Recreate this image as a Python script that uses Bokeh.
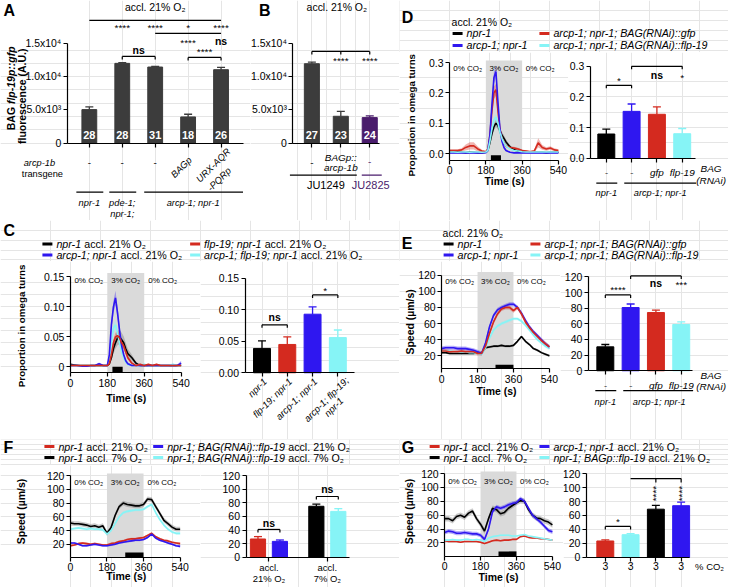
import numpy as np
from bokeh.plotting import figure
from bokeh.layouts import row, column
from bokeh.models import (Range1d, FixedTicker, Label, Arrow, NumeralTickFormatter,
                          CustomJSTickFormatter, LinearAxis, Plot)
from bokeh.embed import file_html
from bokeh.resources import INLINE

# ============================ DATA ============================
TITLE_21 = "accl. 21% O₂"
CO2_LABELS = ["0% CO₂", "3% CO₂", "0% CO₂"]
CO2_LABEL_T = [90, 270, 450]
CO2_WINDOW = (180, 360)
OMEGA_WINDOW = (205, 255)
SPEED_WINDOW = (270, 360)
TIME_TICKS = [0, 180, 360, 540]

# Panel A
A_VALUES = [5050, 12000, 11450, 3950, 11050]
A_ERR = [400, 120, 100, 400, 350]
A_N = ["28", "28", "31", "18", "26"]
A_TRANSGENE = ["-", "-", "-", "BAGp", "URX-AQR\n-PQRp"]
A_GENOTYPES = ["npr-1", "pde-1;\nnpr-1;", "arcp-1; npr-1"]

# Panel B
B_VALUES = [11950, 4050, 3850]
B_ERR = [250, 750, 250]
B_N = ["27", "23", "24"]
B_TRANSGENE = ["-", "BAGp::\narcp-1b", "-"]
B_STRAINS = ["JU1249", "JU2825"]

# Panel C (omega turns)
T_OMEGA = [0, 20, 40, 60, 80, 100, 120, 140, 160, 180, 190, 200, 210, 220, 230, 240, 250,
           260, 270, 280, 300, 320, 340, 360, 380, 400, 420, 440, 460, 480, 500, 520, 540]
C_LEGEND = [("npr-1", " accl. 21% O₂"), ("arcp-1; npr-1", " accl. 21% O₂"),
            ("flp-19; npr-1", " accl. 21% O₂"), ("arcp-1; flp-19; npr-1", " accl. 21% O₂")]
C_BLACK = [0.004, 0.003, 0.002, 0.002, 0.002, 0.002, 0.002, 0.002, 0.002, 0.002,
           0.005, 0.015, 0.03, 0.04, 0.048, 0.05, 0.045, 0.04, 0.03, 0.022,
           0.015, 0.006, 0.002, 0.002, 0.002, 0.002, 0.002, 0.002, 0.002, 0.002, 0.002, 0.002, 0.002]
C_BLACK_SEM = [0.001, 0.001, 0.001, 0.001, 0.001, 0.001, 0.001, 0.001, 0.001, 0.001,
               0.002, 0.005, 0.008, 0.01, 0.012, 0.012, 0.012, 0.011, 0.01, 0.008,
               0.005, 0.003, 0.001, 0.001, 0.001, 0.001, 0.001, 0.001, 0.001, 0.001, 0.001, 0.001, 0.001]
C_BLUE = [0.002, 0.002, 0.002, 0.001, 0.001, 0.002, 0.002, 0.005, 0.002, 0.002,
          0.02, 0.07, 0.10, 0.115, 0.09, 0.06, 0.035, 0.02, 0.01, 0.005,
          0.002, 0.002, 0.002, 0.002, 0.002, 0.002, 0.002, 0.002, 0.002, 0.002, 0.002, 0.002, 0.006]
C_BLUE_SEM = [0.001, 0.001, 0.001, 0.001, 0.001, 0.001, 0.001, 0.002, 0.001, 0.001,
              0.004, 0.008, 0.01, 0.012, 0.01, 0.008, 0.006, 0.004, 0.003, 0.002,
              0.001, 0.001, 0.001, 0.001, 0.001, 0.001, 0.001, 0.001, 0.001, 0.001, 0.001, 0.001, 0.004]
C_RED = [0.002, 0.002, 0.002, 0.002, 0.002, 0.002, 0.002, 0.002, 0.002, 0.002,
         0.005, 0.02, 0.04, 0.05, 0.052, 0.048, 0.04, 0.035, 0.025, 0.015,
         0.006, 0.002, 0.004, 0.002, 0.004, 0.002, 0.004, 0.002, 0.002, 0.002, 0.002, 0.002, 0.002]
C_RED_SEM = [0.001, 0.001, 0.001, 0.001, 0.001, 0.001, 0.001, 0.001, 0.001, 0.001,
             0.002, 0.004, 0.006, 0.007, 0.007, 0.007, 0.006, 0.005, 0.004, 0.003,
             0.002, 0.001, 0.001, 0.001, 0.001, 0.001, 0.001, 0.001, 0.001, 0.001, 0.001, 0.001, 0.001]
C_CYAN = [0.002, 0.002, 0.002, 0.002, 0.002, 0.002, 0.002, 0.002, 0.002, 0.002,
          0.01, 0.04, 0.065, 0.07, 0.055, 0.04, 0.025, 0.015, 0.008, 0.004,
          0.002, 0.002, 0.002, 0.004, 0.002, 0.002, 0.002, 0.002, 0.002, 0.002, 0.004, 0.002, 0.002]
C_CYAN_SEM = [0.001, 0.001, 0.001, 0.001, 0.001, 0.001, 0.001, 0.001, 0.001, 0.001,
              0.003, 0.006, 0.008, 0.008, 0.007, 0.006, 0.004, 0.003, 0.002, 0.002,
              0.001, 0.001, 0.001, 0.001, 0.001, 0.001, 0.001, 0.001, 0.001, 0.001, 0.001, 0.001, 0.001]
C_BAR_LABELS = ["npr-1", "flp-19; npr-1", "arcp-1; npr-1", "arcp-1; flp-19;\nnpr-1"]
C_BAR = [0.0385, 0.0448, 0.0927, 0.0557]
C_BAR_ERR = [0.012, 0.012, 0.0115, 0.012]

# Panel D (omega turns)
D_LEGEND = ["npr-1", "arcp-1; npr-1", "arcp-1; npr-1; BAG(RNAi)::gfp", "arcp-1; npr-1; BAG(RNAi)::flp-19"]
D_BLACK = [0.005, 0.004, 0.005, 0.004, 0.003, 0.004, 0.004, 0.003, 0.003, 0.004,
           0.01, 0.035, 0.065, 0.088, 0.10, 0.092, 0.075, 0.06, 0.05, 0.038,
           0.022, 0.012, 0.008, 0.006, 0.005, 0.004, 0.004, 0.004, 0.004, 0.003, 0.004, 0.004, 0.004]
D_BLACK_SEM = [0.002, 0.002, 0.002, 0.002, 0.002, 0.002, 0.002, 0.002, 0.002, 0.002,
               0.004, 0.008, 0.01, 0.012, 0.013, 0.013, 0.012, 0.011, 0.01, 0.008,
               0.005, 0.004, 0.003, 0.002, 0.002, 0.002, 0.002, 0.002, 0.002, 0.002, 0.002, 0.002, 0.002]
D_BLUE = [0.002, 0.002, 0.002, 0.002, 0.002, 0.002, 0.002, 0.002, 0.002, 0.003,
          0.01, 0.06, 0.16, 0.25, 0.27, 0.17, 0.08, 0.04, 0.02, 0.01,
          0.004, 0.002, 0.002, 0.002, 0.002, 0.002, 0.002, 0.002, 0.002, 0.002, 0.002, 0.002, 0.002]
D_BLUE_SEM = [0.001, 0.001, 0.001, 0.001, 0.001, 0.001, 0.001, 0.001, 0.001, 0.001,
              0.003, 0.01, 0.015, 0.02, 0.02, 0.015, 0.01, 0.006, 0.004, 0.003,
              0.001, 0.001, 0.001, 0.001, 0.001, 0.001, 0.001, 0.001, 0.001, 0.001, 0.001, 0.001, 0.001]
D_RED = [0.01, 0.01, 0.01, 0.012, 0.02, 0.025, 0.025, 0.015, 0.008, 0.006,
         0.015, 0.06, 0.14, 0.20, 0.21, 0.14, 0.08, 0.05, 0.035, 0.025,
         0.02, 0.018, 0.015, 0.01, 0.008, 0.006, 0.008, 0.035, 0.02, 0.015, 0.018, 0.012, 0.01]
D_RED_SEM = [0.004, 0.004, 0.004, 0.005, 0.01, 0.012, 0.012, 0.008, 0.004, 0.003,
             0.005, 0.01, 0.015, 0.02, 0.02, 0.015, 0.01, 0.008, 0.006, 0.005,
             0.004, 0.004, 0.004, 0.003, 0.003, 0.003, 0.004, 0.015, 0.008, 0.006, 0.006, 0.005, 0.004]
D_CYAN = [0.005, 0.005, 0.004, 0.005, 0.005, 0.004, 0.005, 0.005, 0.004, 0.005,
          0.01, 0.04, 0.08, 0.11, 0.12, 0.10, 0.07, 0.05, 0.035, 0.025,
          0.015, 0.01, 0.008, 0.006, 0.005, 0.005, 0.005, 0.005, 0.005, 0.005, 0.005, 0.005, 0.005]
D_CYAN_SEM = [0.002, 0.002, 0.002, 0.002, 0.002, 0.002, 0.002, 0.002, 0.002, 0.002,
              0.003, 0.006, 0.008, 0.01, 0.01, 0.01, 0.008, 0.006, 0.005, 0.004,
              0.003, 0.002, 0.002, 0.002, 0.002, 0.002, 0.002, 0.002, 0.002, 0.002, 0.002, 0.002, 0.002]
D_BAR = [0.079, 0.153, 0.1435, 0.080]
D_BAR_ERR = [0.016, 0.024, 0.024, 0.017]
RNAI_TICKS = ["-", "-", "gfp", "flp-19"]
RNAI_GENOTYPES = ["npr-1", "arcp-1; npr-1"]

# Panels E, F, G (speed)
T_SPEED = [0, 20, 40, 60, 80, 100, 120, 140, 160, 180, 200, 220, 240, 260,
           280, 300, 320, 340, 360, 380, 400, 420, 440, 460, 480, 500, 520, 540]
E_BLACK = [24, 24, 23, 23, 23, 23, 23, 23, 23, 24, 23, 30, 31, 32, 32, 33, 32, 32, 33, 38, 44, 38, 34, 29, 27, 24, 22, 20]
E_BLUE = [29, 30, 30, 30, 29, 29, 29, 28, 27, 25, 23, 36, 56, 70, 77, 80, 82, 84, 84, 80, 73, 64, 56, 50, 45, 40, 35, 31]
E_RED = [26, 26, 25, 25, 25, 26, 25, 25, 25, 23, 23, 32, 48, 62, 72, 78, 80, 80, 76, 80, 72, 62, 55, 49, 44, 39, 35, 31]
E_CYAN = [26, 26, 26, 25, 25, 25, 25, 24, 24, 23, 22, 30, 42, 52, 57, 60, 62, 64, 66, 66, 63, 58, 52, 46, 40, 36, 32, 29]
E_SEM = {"black": 1.5, "blue": 2.5, "red": 2.5, "cyan": 2.0}
E_BAR = [30.6, 80.9, 74.5, 59.2]
E_BAR_ERR = [3.0, 4.5, 3.0, 3.3]

F_LEGEND = [("npr-1", " accl. 21% O₂"), ("npr-1", " accl. 7% O₂"),
            ("npr-1; BAG(RNAi)::flp-19", " accl. 21% O₂"), ("npr-1; BAG(RNAi)::flp-19", " accl. 7% O₂")]
F_RED = [18, 19, 21, 22, 21, 20, 21, 20, 19, 19, 21, 22, 24, 25, 27, 28, 28, 29, 30, 33, 36, 31, 28, 26, 25, 23, 22, 21]
F_BLUE = [22, 22, 20, 18, 18, 19, 20, 19, 18, 18, 19, 20, 22, 23, 24, 25, 26, 26, 27, 30, 35, 29, 26, 24, 22, 20, 18, 17]
F_BLACK = [51, 50, 50, 49, 48, 46, 47, 45, 47, 36, 44, 62, 75, 80, 78, 77, 76, 76, 78, 86, 85, 75, 65, 55, 50, 45, 42, 42]
F_CYAN = [42, 43, 44, 43, 42, 43, 42, 42, 41, 35, 40, 50, 60, 66, 68, 69, 70, 70, 71, 75, 78, 66, 56, 48, 42, 38, 36, 36]
F_SEM = {"black": 3.5, "cyan": 2.0, "red": 1.5, "blue": 1.5}
F_GROUPS = ["accl.\n21% O₂", "accl.\n7% O₂"]
F_BAR_NPR1 = [27, 75]
F_BAR_NPR1_ERR = [3.5, 3.0]
F_BAR_RNAI = [23.5, 67.5]
F_BAR_RNAI_ERR = [2.0, 4.0]

G_LEGEND = [("npr-1", " accl. 21% O₂"), ("npr-1", " accl. 7% O₂"),
            ("arcp-1; npr-1", " accl. 21% O₂"), ("npr-1; BAGp::flp-19", " accl. 21% O₂")]
G_RED = [23, 22, 22, 22, 21, 22, 22, 22, 22, 21, 19, 21, 23, 24, 23, 24, 24, 25, 25, 29, 30, 28, 27, 27, 26, 26, 25, 24]
G_CYAN = [24, 24, 25, 24, 24, 25, 25, 24, 25, 24, 22, 27, 29, 30, 31, 31, 31, 30, 30, 31, 32, 30, 29, 28, 27, 26, 25, 24]
G_BLACK = [55, 55, 52, 58, 60, 57, 63, 66, 55, 47, 37, 55, 70, 68, 62, 64, 70, 74, 78, 81, 80, 68, 60, 56, 55, 52, 50, 46]
G_BLUE = [35, 37, 36, 34, 34, 35, 34, 33, 33, 31, 25, 40, 65, 72, 70, 72, 75, 77, 78, 84, 80, 70, 60, 55, 50, 44, 38, 36]
G_SEM = {"black": 4.0, "blue": 3.0, "red": 1.0, "cyan": 1.0}
G_BAR = [23.5, 32.5, 69.0, 74.0]
G_BAR_ERR = [1.5, 1.5, 5.5, 5.0]
G_BAR_TICKS = ["3", "3", "3", "3"]

# ============================ STYLE ============================
S = 0.998
FONT = "Liberation Sans"
BLACK = "#000000"
BLUE = "#2f17f0"
RED = "#d42a1f"
CYAN = "#86f4f6"
GRAYBAR = "#3c3c3c"
PURPLE = "#4a1c6c"
BAND = "#dadada"
HAS_FRAME_ALIGN = "frame_align" in Plot.properties()

REG = {' ': 278, '!': 278, '%': 889, '(': 333, ')': 333, '*': 389, ',': 278, '-': 333, '.': 278,
       '/': 278, ':': 278, ';': 278, 'A': 667, 'B': 667, 'C': 722, 'D': 722, 'E': 667, 'F': 611,
       'G': 778, 'H': 722, 'I': 278, 'J': 500, 'K': 667, 'L': 556, 'M': 833, 'N': 722, 'O': 778,
       'P': 667, 'Q': 778, 'R': 722, 'S': 667, 'T': 611, 'U': 722, 'V': 667, 'W': 944, 'X': 667,
       'Y': 667, 'Z': 611, 'a': 556, 'b': 556, 'c': 500, 'd': 556, 'e': 556, 'f': 278, 'g': 556,
       'h': 556, 'i': 222, 'j': 222, 'k': 500, 'l': 222, 'm': 833, 'n': 556, 'o': 556, 'p': 556,
       'q': 556, 'r': 333, 's': 500, 't': 278, 'u': 556, 'v': 500, 'w': 722, 'x': 500, 'y': 500,
       'z': 500}
BOLD = dict(REG)
BOLD.update({'a': 556, 'b': 611, 'c': 556, 'd': 611, 'e': 556, 'f': 333, 'g': 611, 'h': 611,
             'i': 278, 'j': 278, 'k': 556, 'l': 278, 'm': 889, 'n': 611, 'o': 611, 'p': 611,
             'q': 611, 'r': 389, 's': 556, 't': 333, 'u': 611, 'v': 556, 'w': 778, 'x': 556,
             'y': 556, 'A': 722, 'B': 722, ':': 333, ';': 333, '!': 333})


def tw(s, bold=False):
    tab = BOLD if bold else REG
    return sum(tab.get(c, 556) for c in s) / 1000.0


def sc(v):
    return int(round(v * S))


def fpx(size):
    return f"{size * S:.2f}px"


class Fig:
    """A figure whose frame is its whole canvas; positions are given in reference pixels."""

    def __init__(self, box, frame=None, xr=None, yr=None):
        rx0, ry0, rx1, ry1 = box
        W = sc(rx1) - sc(rx0)
        H = sc(ry1) - sc(ry0)
        self.has_axes = frame is not None
        if frame is None:
            frame = box
            xr = (rx0, rx1)
            yr = (ry1, ry0)
        self.fl, self.ft, self.fr, self.fb = frame
        self.xr, self.yr = xr, yr
        cx0, cx1 = sc(rx0) / S, sc(rx1) / S
        cy0, cy1 = sc(ry0) / S, sc(ry1) / S
        kw = dict(width=W, height=H,
                  x_range=Range1d(self.X(cx0), self.X(cx1)),
                  y_range=Range1d(self.Y(cy1), self.Y(cy0)),
                  min_border=0, min_border_left=0, min_border_right=0,
                  min_border_top=0, min_border_bottom=0,
                  x_axis_location=None, y_axis_location=None,
                  toolbar_location=None, output_backend="svg", outline_line_color=None)
        if HAS_FRAME_ALIGN:
            kw["frame_align"] = False
        self.p = figure(**kw)
        if self.has_axes:
            self.p.add_layout(LinearAxis(fixed_location=yr[0], bounds=(xr[0], xr[1])), "below")
            self.p.add_layout(LinearAxis(fixed_location=xr[0]), "left")

    def X(self, x):
        return self.xr[0] + (x - self.fl) * (self.xr[1] - self.xr[0]) / (self.fr - self.fl)

    def Y(self, y):
        return self.yr[0] + (self.fb - y) * (self.yr[1] - self.yr[0]) / (self.fb - self.ft)

    def RX(self, xd):
        return self.fl + (xd - self.xr[0]) * (self.fr - self.fl) / (self.xr[1] - self.xr[0])

    def dx(self, px):
        return px * (self.xr[1] - self.xr[0]) / (self.fr - self.fl)


def lab(P, x, y, text, size=10.5, style="normal", color=BLACK, align="center", baseline="middle", angle=0):
    P.p.add_layout(Label(x=P.X(x), y=P.Y(y), text=text, text_font=FONT, text_font_size=fpx(size),
                         text_font_style=style, text_color=color, text_align=align,
                         text_baseline=baseline, angle=angle, angle_units="deg"))


def seg(P, x0, y0, x1, y1, color=BLACK, w=1.2):
    P.p.add_layout(Arrow(start=None, end=None, x_start=P.X(x0), y_start=P.Y(y0),
                         x_end=P.X(x1), y_end=P.Y(y1), line_color=color, line_width=w))


def rich(P, x, y, parts, size=10.7):
    for t, st, col in parts:
        bold = "bold" in st
        stripped = t.lstrip(" ")
        x += tw(t[:len(t) - len(stripped)], bold) * size
        lab(P, x, y, stripped, size, st, col, "left")
        x += tw(stripped, bold) * size


def bracket(P, xa, xb, y, text=None, ty=None, size=10.5, style="normal", drop=3):
    seg(P, xa, y + drop, xa, y)
    seg(P, xa, y, xb, y)
    seg(P, xb, y, xb, y + drop)
    if text:
        lab(P, (xa + xb) / 2, ty, text, size, style)


def legend_item(P, x, y, color, parts, size=10.7):
    seg(P, x, y, x + 10, y, color=color, w=3)
    rich(P, x + 14, y, parts, size)


def style_axes(P, size=10.5):
    for ax in P.p.axis:
        ax.axis_line_width = 1.2
        ax.axis_line_color = BLACK
        ax.major_tick_line_width = 1.2
        ax.major_tick_line_color = BLACK
        ax.major_tick_out = 4
        ax.major_tick_in = 0
        ax.minor_tick_line_color = None
        ax.major_label_text_font = FONT
        ax.major_label_text_font_size = fpx(size)
        ax.major_label_text_color = BLACK
        ax.major_label_standoff = 2


def time_chart(P, T, series, yticks, fmt=None, ovr=None, stim=None, stim_top=None, co2_y=None):
    p = P.p
    y0, y1 = P.yr
    p.quad(left=[CO2_WINDOW[0]], right=[CO2_WINDOW[1]], bottom=[y0], top=[y1],
           fill_color=BAND, line_color=None)
    for vals, sem, col in series:
        v = np.asarray(vals, dtype=float)
        e = np.asarray(sem, dtype=float) * np.ones_like(v)
        fc = "#666666" if col == BLACK else col
        p.varea(x=T, y1=v - e, y2=v + e, fill_color=fc, fill_alpha=0.35)
    for vals, sem, col in series:
        p.line(T, vals, line_color=col, line_width=1.6)
    p.quad(left=[stim[0]], right=[stim[1]], bottom=[y0], top=[P.Y(stim_top)],
           fill_color=BLACK, line_color=None)
    style_axes(P)
    p.xaxis.ticker = FixedTicker(ticks=TIME_TICKS)
    p.yaxis.ticker = FixedTicker(ticks=yticks)
    p.yaxis.bounds = (y0, yticks[-1])
    if fmt:
        p.yaxis.formatter = NumeralTickFormatter(format=fmt)
    if ovr:
        p.yaxis.major_label_overrides = ovr
    for tx, s in zip(CO2_LABEL_T, CO2_LABELS):
        lab(P, P.RX(tx), co2_y, s, 8)


def bar_chart(P, xs, vals, errs, cols, width, yticks, fmt=None, ovr=None, cap=4):
    p = P.p
    p.vbar(x=xs, top=vals, width=width, fill_color=cols, line_color=cols)
    ye = [v + e for v, e in zip(vals, errs)]
    cw = P.dx(cap)
    p.segment(x0=xs, y0=vals, x1=xs, y1=ye, line_color=cols, line_width=1.3)
    p.segment(x0=[x - cw for x in xs], y0=ye, x1=[x + cw for x in xs], y1=ye,
              line_color=cols, line_width=1.3)
    style_axes(P)
    p.yaxis.ticker = FixedTicker(ticks=yticks)
    p.yaxis.bounds = (P.yr[0], yticks[-1])
    if fmt:
        p.yaxis.formatter = NumeralTickFormatter(format=fmt)
    if ovr:
        p.yaxis.major_label_overrides = ovr
    p.xaxis.ticker = FixedTicker(ticks=list(xs))
    p.xaxis.formatter = CustomJSTickFormatter(code="return ''")


def set_xlabels(P, xs, labels, size=10, style="italic", standoff=5):
    ax = P.p.xaxis[0]
    ax.formatter = NumeralTickFormatter(format="0")
    ax.major_label_overrides = {x: t for x, t in zip(xs, labels)}
    ax.major_label_text_font_style = style
    ax.major_label_text_font_size = fpx(size)
    ax.major_label_standoff = standoff


# ============================ PANEL A ============================
Fa = Fig((0, 0, 250, 220), frame=(67, 15, 243, 143), xr=(0.333, 5.667), yr=(0, 19200))
xa = list(range(1, len(A_VALUES) + 1))
bar_chart(Fa, xa, A_VALUES, A_ERR, [GRAYBAR] * len(xa), 0.45, [0, 5000, 10000, 15000],
          ovr={0: "0", 5000: "5.0x10³", 10000: "1.0x10⁴", 15000: "1.5x10⁴"})
for x, n in zip(xa, A_N):
    lab(Fa, Fa.RX(x), 135, n, 11, "bold", "white")
lab(Fa, 3, 10, "A", 16, "bold", align="left")
lab(Fa, 155, 7, TITLE_21, 10.5)
seg(Fa, Fa.RX(1), 20, Fa.RX(5), 20)
for x, s in zip([2, 3, 4, 5], ["****", "****", "*", "****"]):
    lab(Fa, Fa.RX(x), 27, s, 10)
seg(Fa, Fa.RX(3), 33, Fa.RX(5), 33)
lab(Fa, Fa.RX(4), 42, "****", 10)
lab(Fa, Fa.RX(5), 41, "ns", 10.5, "bold")
bracket(Fa, Fa.RX(4), Fa.RX(5), 57, "****", 51, 10)
bracket(Fa, Fa.RX(2), Fa.RX(3), 56, "ns", 50, 10.5, "bold")
for x, t in zip(xa[:3], A_TRANSGENE[:3]):
    lab(Fa, Fa.RX(x), 163, t, 10)
lab(Fa, 181, 167, A_TRANSGENE[3], 9.5, "italic", angle=45)
l1, l2 = A_TRANSGENE[4].split("\n")
lab(Fa, 213, 165, l1, 9.5, "italic", angle=45)
lab(Fa, 219, 179, l2, 9.5, "italic", angle=45)
lab(Fa, 39, 163, "arcp-1b", 9.3, "italic")
lab(Fa, 42, 174, "transgene", 9.3)
seg(Fa, 76, 192, 103, 192)
seg(Fa, 109, 192, 136, 192)
seg(Fa, 144, 192, 243, 192)
lab(Fa, Fa.RX(1), 203, A_GENOTYPES[0], 9.3, "italic")
g1, g2 = A_GENOTYPES[1].split("\n")
lab(Fa, Fa.RX(2), 203, g1, 9.3, "italic")
lab(Fa, Fa.RX(2), 214, g2, 9.3, "italic")
lab(Fa, 193, 203, A_GENOTYPES[2], 9.3, "italic")
lab(Fa, 11, 130, "BAG ", 10.5, "bold", align="left", angle=90)
lab(Fa, 11, 130 - tw("BAG ", True) * 10.5, "flp-19p::gfp", 10.5, "bold italic", align="left", angle=90)
lab(Fa, 22, 96, "fluorescence (A.U.)", 10.5, "bold", angle=90)

# ============================ PANEL B ============================
Fb = Fig((250, 0, 400, 220), frame=(293, 15, 380, 143), xr=(0.345, 3.345), yr=(0, 19200))
xb = list(range(1, len(B_VALUES) + 1))
bar_chart(Fb, xb, B_VALUES, B_ERR, [GRAYBAR, GRAYBAR, PURPLE], 0.52, [0, 5000, 10000, 15000],
          ovr={0: "0", 5000: "5.0x10³", 10000: "1.0x10⁴", 15000: "1.5x10⁴"})
for x, n in zip(xb, B_N):
    lab(Fb, Fb.RX(x), 135, n, 11, "bold", "white")
lab(Fb, 259, 10, "B", 16, "bold", align="left")
lab(Fb, 337, 7, TITLE_21, 10.5)
seg(Fb, Fb.RX(1), 51, Fb.RX(3), 51)
for x in xb:
    seg(Fb, Fb.RX(x), 51, Fb.RX(x), 54)
lab(Fb, Fb.RX(2), 60, "****", 10)
lab(Fb, Fb.RX(3), 60, "****", 10)
lab(Fb, Fb.RX(1), 163, B_TRANSGENE[0], 10)
b1, b2 = B_TRANSGENE[1].split("\n")
lab(Fb, Fb.RX(2), 157, b1, 10, "italic")
lab(Fb, Fb.RX(2), 167, b2, 10, "italic")
lab(Fb, Fb.RX(3), 162, B_TRANSGENE[2], 10, color=PURPLE)
seg(Fb, 290, 175, 357, 175)
seg(Fb, 362, 175, 382, 175, color=PURPLE)
lab(Fb, 326, 185, B_STRAINS[0], 11)
lab(Fb, 371, 185, B_STRAINS[1], 11, color=PURPLE)

# ============================ PANEL D ============================
Dhead = Fig((400, 0, 729, 52))
lab(Dhead, 402, 17, "D", 16, "bold", align="left")
lab(Dhead, 452, 22, TITLE_21, 10.5, align="left")
for (x, y), col, t in zip([(453, 33), (453, 45), (540, 33), (540, 45)], [BLACK, BLUE, RED, CYAN], D_LEGEND):
    legend_item(Dhead, x, y, col, [(t, "italic", BLACK)])

Dline = Fig((400, 52, 569, 220), frame=(450, 60, 559, 160), xr=(0, 540), yr=(-0.022, 0.307))
time_chart(Dline, T_OMEGA, [(D_BLACK, D_BLACK_SEM, BLACK), (D_RED, D_RED_SEM, RED),
                            (D_BLUE, D_BLUE_SEM, BLUE), (D_CYAN, D_CYAN_SEM, CYAN)],
           [0, 0.1, 0.2, 0.3], fmt="0.0", stim=OMEGA_WINDOW, stim_top=155, co2_y=68)
lab(Dline, 412, 115, "Proportion in omega turns", 9.8, "bold", angle=90)
lab(Dline, 505, 181, "Time (s)", 10.5, "bold")

Dbar = Fig((569, 52, 729, 220), frame=(591, 60, 696, 158), xr=(0.368, 4.51), yr=(0, 0.3196))
xd = list(range(1, len(D_BAR) + 1))
bar_chart(Dbar, xd, D_BAR, D_BAR_ERR, [BLACK, BLUE, RED, CYAN], 0.67, [0, 0.1, 0.2, 0.3], fmt="0.0")
set_xlabels(Dbar, xd, RNAI_TICKS)
bracket(Dbar, Dbar.RX(1), Dbar.RX(2), 85, "*", 80, 10)
seg(Dbar, Dbar.RX(2), 69, Dbar.RX(2), 66)
seg(Dbar, Dbar.RX(2), 66, Dbar.RX(4), 66)
seg(Dbar, Dbar.RX(4), 66, Dbar.RX(4), 69)
lab(Dbar, Dbar.RX(3), 75, "ns", 10.5, "bold")
lab(Dbar, Dbar.RX(4), 77, "*", 10)
lab(Dbar, 712, 168, "BAG", 10, "italic")
lab(Dbar, 712, 180, "(RNAi)", 10, "italic")
seg(Dbar, 597, 183, 618, 183)
seg(Dbar, 625, 183, 697, 183)
lab(Dbar, Dbar.RX(1), 193, RNAI_GENOTYPES[0], 9.3, "italic")
lab(Dbar, 661, 193, RNAI_GENOTYPES[1], 9.3, "italic")

# ============================ PANEL C ============================
Chead = Fig((0, 220, 400, 262))
lab(Chead, 3, 230, "C", 16, "bold", align="left")
for (x, y), col, (it, nm) in zip([(42, 244), (42, 255), (190, 244), (190, 255)],
                                 [BLACK, BLUE, RED, CYAN], C_LEGEND):
    legend_item(Chead, x, y, col, [(it, "italic", BLACK), (nm, "normal", BLACK)])

Cline = Fig((0, 262, 200, 440), frame=(70, 273, 181, 373), xr=(0, 540), yr=(-0.01, 0.1567))
time_chart(Cline, T_OMEGA, [(C_BLACK, C_BLACK_SEM, BLACK), (C_CYAN, C_CYAN_SEM, CYAN),
                            (C_BLUE, C_BLUE_SEM, BLUE), (C_RED, C_RED_SEM, RED)],
           [0, 0.05, 0.1, 0.15], fmt="0.00", ovr={0: "0"}, stim=OMEGA_WINDOW, stim_top=367, co2_y=281)
lab(Cline, 21, 326, "Proportion in omega turns", 9.8, "bold", angle=90)
lab(Cline, 126, 399, "Time (s)", 10.5, "bold")

Cbar = Fig((200, 262, 400, 440), frame=(245, 273, 355, 373), xr=(0.328, 4.67), yr=(0, 0.158))
xc = list(range(1, len(C_BAR) + 1))
bar_chart(Cbar, xc, C_BAR, C_BAR_ERR, [BLACK, RED, BLUE, CYAN], 0.67, [0, 0.05, 0.1, 0.15], fmt="0.00")
bracket(Cbar, Cbar.RX(1), Cbar.RX(2), 325, "ns", 318, 10.5, "bold")
bracket(Cbar, Cbar.RX(3), Cbar.RX(4), 295, "*", 291, 10)
for x, t in zip(xc, C_BAR_LABELS):
    parts = t.split("\n")
    if len(parts) == 1:
        lab(Cbar, Cbar.RX(x) + 3, 380, t, 9.5, "italic", align="right", angle=45)
    else:
        ax_, ay_ = Cbar.RX(x) + 9, 379
        w1 = tw(parts[0]) * 9.5
        cx, cy = ax_ - 0.707 * w1 / 2, ay_ + 0.707 * w1 / 2
        lab(Cbar, cx, cy, parts[0], 9.5, "italic", angle=45)
        lab(Cbar, cx + 7.5, cy + 7.5, parts[1], 9.5, "italic", angle=45)

# ============================ PANEL E ============================
Ehead = Fig((400, 220, 729, 262))
lab(Ehead, 402, 243, "E", 16, "bold", align="left")
lab(Ehead, 443, 233, TITLE_21, 10.5, align="left")
for (x, y), col, t in zip([(444, 244), (444, 255), (531, 244), (531, 255)], [BLACK, BLUE, RED, CYAN], D_LEGEND):
    legend_item(Ehead, x, y, col, [(t, "italic", BLACK)])

Eline = Fig((400, 262, 561, 440), frame=(442, 272, 550, 369), xr=(0, 540), yr=(4, 124))
time_chart(Eline, T_SPEED, [(E_BLACK, E_SEM["black"], BLACK), (E_CYAN, E_SEM["cyan"], CYAN),
                            (E_BLUE, E_SEM["blue"], BLUE), (E_RED, E_SEM["red"], RED)],
           [20, 40, 60, 80, 100, 120], stim=SPEED_WINDOW, stim_top=365, co2_y=282)
lab(Eline, 411, 322, "Speed (µm/s)", 10.5, "bold", angle=90)
lab(Eline, 497, 392, "Time (s)", 10.5, "bold")

Ebar = Fig((561, 262, 729, 440), frame=(589, 272, 693, 371), xr=(0.328, 4.43), yr=(0, 126.4))
xe = list(range(1, len(E_BAR) + 1))
bar_chart(Ebar, xe, E_BAR, E_BAR_ERR, [BLACK, BLUE, RED, CYAN], 0.67, [0, 20, 40, 60, 80, 100, 120])
set_xlabels(Ebar, xe, RNAI_TICKS)
bracket(Ebar, Ebar.RX(1), Ebar.RX(2), 295, "****", 290, 10)
seg(Ebar, Ebar.RX(2), 279, Ebar.RX(2), 276)
seg(Ebar, Ebar.RX(2), 276, Ebar.RX(4), 276)
seg(Ebar, Ebar.RX(4), 276, Ebar.RX(4), 279)
lab(Ebar, Ebar.RX(3), 284, "ns", 10.5, "bold")
lab(Ebar, Ebar.RX(4), 285, "***", 10)
lab(Ebar, 712, 376, "BAG", 10, "italic")
lab(Ebar, 712, 387, "(RNAi)", 10, "italic")
seg(Ebar, 596, 391, 617, 391)
seg(Ebar, 624, 391, 694, 391)
lab(Ebar, Ebar.RX(1), 402, RNAI_GENOTYPES[0], 9.3, "italic")
lab(Ebar, 660, 402, RNAI_GENOTYPES[1], 9.3, "italic")

# ============================ PANEL F ============================
Fhead = Fig((0, 440, 400, 466))
lab(Fhead, 3, 448, "F", 16, "bold", align="left")
for (x, y), col, (it, nm) in zip([(44, 447), (44, 458), (153, 447), (153, 458)],
                                 [RED, BLACK, BLUE, CYAN], F_LEGEND):
    legend_item(Fhead, x, y, col, [(it, "italic", BLACK), (nm, "normal", BLACK)])

Fline = Fig((0, 466, 200, 588), frame=(70, 474, 180, 558), xr=(0, 540), yr=(1, 123))
time_chart(Fline, T_SPEED, [(F_BLACK, F_SEM["black"], BLACK), (F_CYAN, F_SEM["cyan"], CYAN),
                            (F_RED, F_SEM["red"], RED), (F_BLUE, F_SEM["blue"], BLUE)],
           [20, 40, 60, 80, 100, 120], stim=SPEED_WINDOW, stim_top=553, co2_y=483)
lab(Fline, 21, 512, "Speed (µm/s)", 10.5, "bold", angle=90)
lab(Fline, 126, 577, "Time (s)", 10.5, "bold")

Fbar = Fig((200, 466, 400, 588), frame=(246, 474, 350, 558), xr=(-0.393, 1.385), yr=(0, 123))
gx = list(range(len(F_GROUPS)))
fx = [g - 0.188 for g in gx] + [g + 0.188 for g in gx]
fv = F_BAR_NPR1 + F_BAR_RNAI
fe = F_BAR_NPR1_ERR + F_BAR_RNAI_ERR
bar_chart(Fbar, fx, fv, fe, [RED, BLACK, BLUE, CYAN], 0.26, [0, 20, 40, 60, 80, 100, 120])
Fbar.p.xaxis.ticker = FixedTicker(ticks=gx)
bracket(Fbar, Fbar.RX(fx[0]), Fbar.RX(fx[2]), 530, "ns", 524, 10.5, "bold")
bracket(Fbar, Fbar.RX(fx[1]), Fbar.RX(fx[3]), 497, "ns", 490, 10.5, "bold")
for g, t in zip(gx, F_GROUPS):
    a, b = t.split("\n")
    lab(Fbar, Fbar.RX(g), 568, a, 9.5)
    lab(Fbar, Fbar.RX(g), 579, b, 9.5)

# ============================ PANEL G ============================
Ghead = Fig((400, 440, 729, 466))
lab(Ghead, 402, 448, "G", 16, "bold", align="left")
for (x, y), col, (it, nm) in zip([(430, 447), (430, 458), (540, 447), (540, 458)],
                                 [RED, BLACK, BLUE, CYAN], G_LEGEND):
    legend_item(Ghead, x, y, col, [(it, "italic", BLACK), (nm, "normal", BLACK)])

Gline = Fig((400, 466, 564, 588), frame=(445, 472, 553, 557), xr=(0, 540), yr=(0.5, 123))
time_chart(Gline, T_SPEED, [(G_BLACK, G_SEM["black"], BLACK), (G_BLUE, G_SEM["blue"], BLUE),
                            (G_RED, G_SEM["red"], RED), (G_CYAN, G_SEM["cyan"], CYAN)],
           [20, 40, 60, 80, 100, 120], stim=SPEED_WINDOW, stim_top=552, co2_y=482)
lab(Gline, 410, 512, "Speed (µm/s)", 10.5, "bold", angle=90)
lab(Gline, 499, 578, "Time (s)", 10.5, "bold")

Gbar = Fig((564, 466, 729, 588), frame=(587, 471, 690, 558), xr=(0.249, 4.316), yr=(0, 124.3))
xg = list(range(1, len(G_BAR) + 1))
bar_chart(Gbar, xg, G_BAR, G_BAR_ERR, [RED, CYAN, BLACK, BLUE], 0.67, [0, 20, 40, 60, 80, 100, 120])
set_xlabels(Gbar, xg, G_BAR_TICKS, size=10.5, style="normal", standoff=1)
lab(Gbar, 696, 567, "% CO₂", 9.5, align="left")
bracket(Gbar, Gbar.RX(1), Gbar.RX(2), 527, "*", 522, 10)
seg(Gbar, Gbar.RX(2), 479, Gbar.RX(4), 479)
seg(Gbar, Gbar.RX(3), 479, Gbar.RX(3), 483)
seg(Gbar, Gbar.RX(4), 479, Gbar.RX(4), 483)
lab(Gbar, Gbar.RX(3), 494, "****", 10, angle=90)
lab(Gbar, Gbar.RX(4), 494, "****", 10, angle=90)

# ============================ LAYOUT ============================
row1 = row(Fa.p, Fb.p, column(Dhead.p, row(Dline.p, Dbar.p)))
row2 = row(column(Chead.p, row(Cline.p, Cbar.p)), column(Ehead.p, row(Eline.p, Ebar.p)))
row3 = row(column(Fhead.p, row(Fline.p, Fbar.p)), column(Ghead.p, row(Gline.p, Gbar.p)))
layout = column(row1, row2, row3)

open("out.html", "w").write(file_html(layout, INLINE))
